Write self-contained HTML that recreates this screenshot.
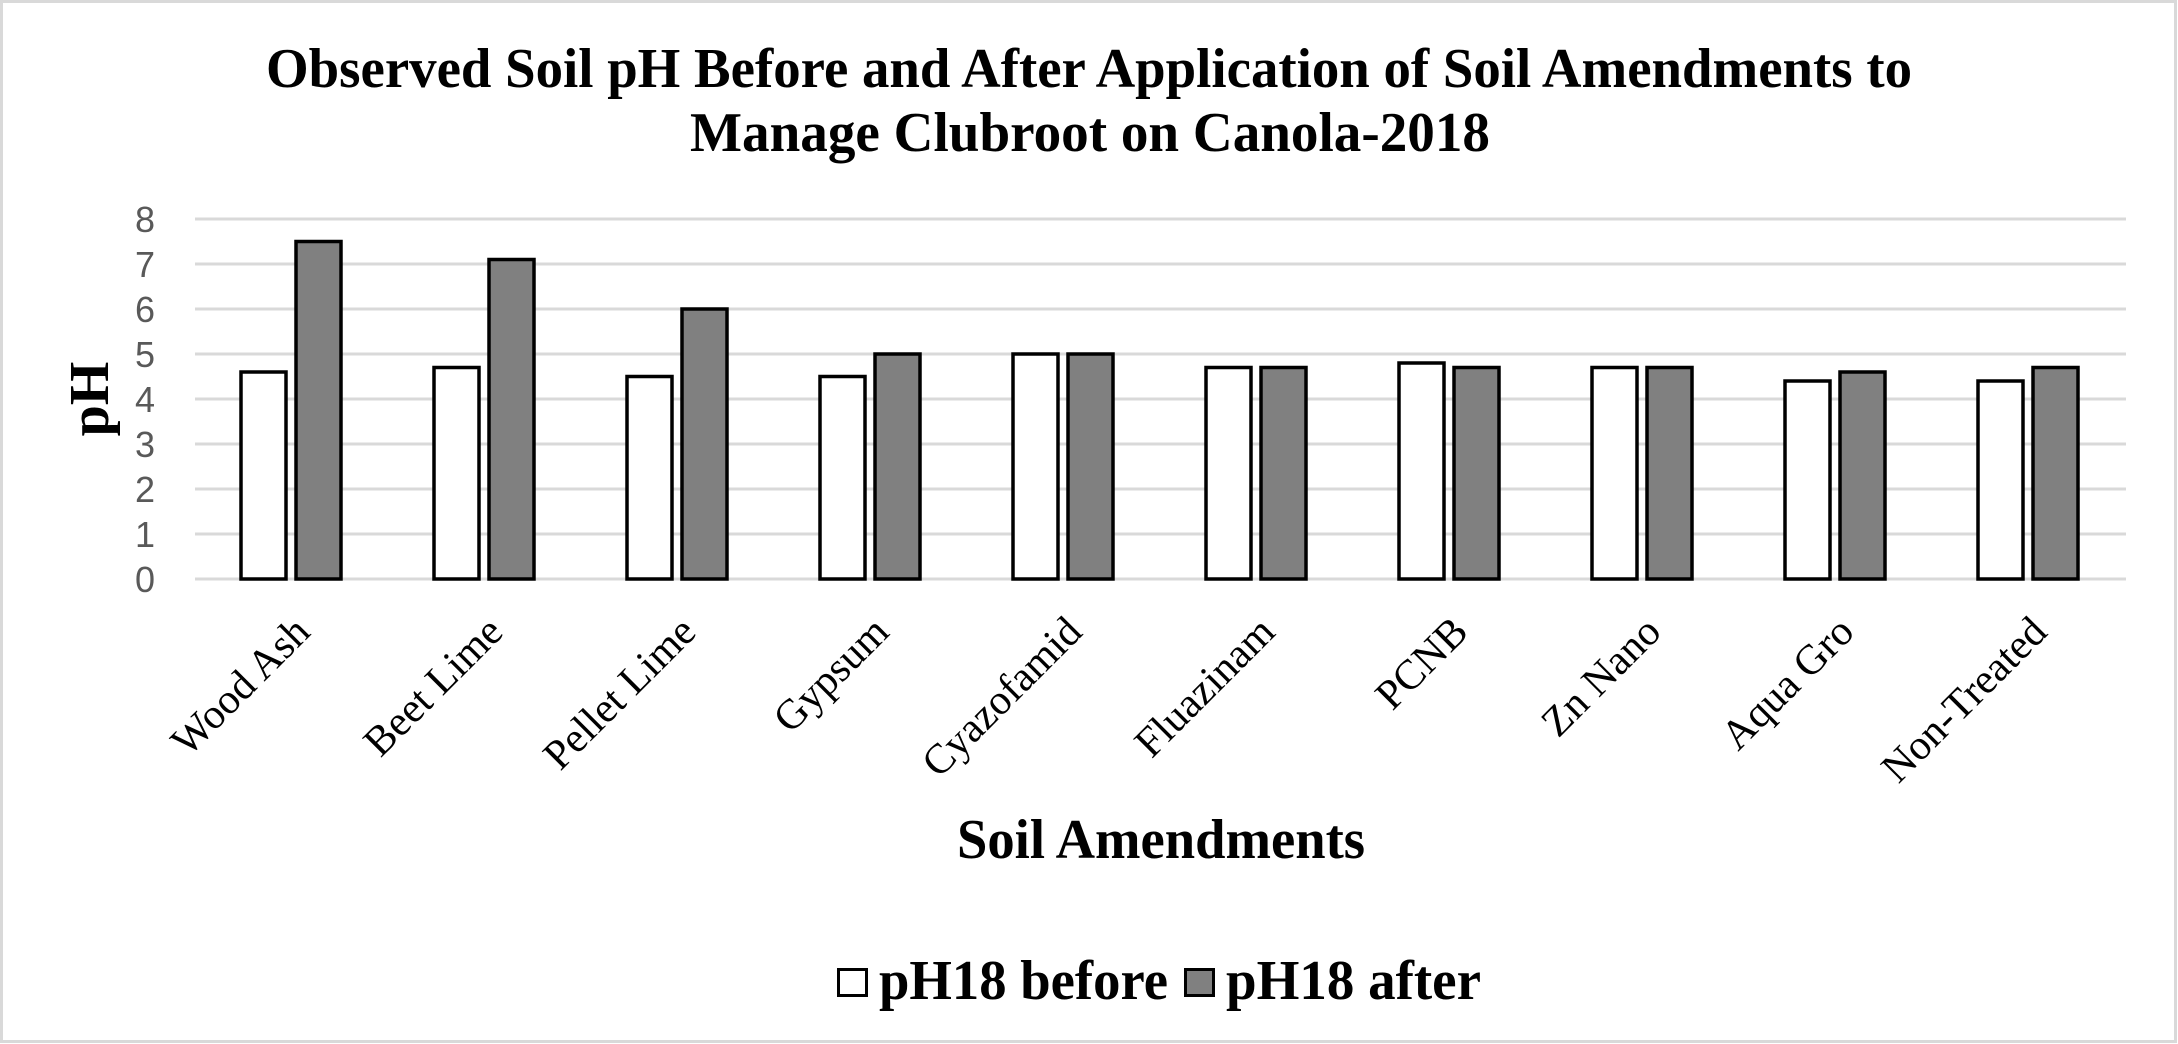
<!DOCTYPE html>
<html><head><meta charset="utf-8"><style>html,body{margin:0;padding:0;background:#fff}svg{display:block}</style></head>
<body>
<svg width="2178" height="1044" viewBox="0 0 2178 1044" xmlns="http://www.w3.org/2000/svg">
<rect x="1.5" y="1.5" width="2174" height="1040" fill="#fff" stroke="#d9d9d9" stroke-width="3"/>
<g font-family="Liberation Serif, serif" font-weight="bold" fill="#000">
<text x="266" y="87" font-size="56" textLength="1646" lengthAdjust="spacingAndGlyphs">Observed Soil pH Before and After Application of Soil Amendments to</text>
<text x="690" y="151" font-size="56" textLength="800" lengthAdjust="spacingAndGlyphs">Manage Clubroot on Canola-2018</text>
<text x="957" y="858" font-size="56" textLength="408" lengthAdjust="spacingAndGlyphs">Soil Amendments</text>
<text transform="translate(108,399) rotate(-90)" text-anchor="middle" font-size="56">pH</text>
<text x="879" y="999" font-size="56" textLength="289" lengthAdjust="spacingAndGlyphs">pH18 before</text>
<text x="1226" y="999" font-size="56" textLength="255" lengthAdjust="spacingAndGlyphs">pH18 after</text>
</g>
<rect x="838.5" y="969.5" width="28" height="26" fill="#fff" stroke="#000" stroke-width="3"/>
<rect x="1185.5" y="969.5" width="28" height="26" fill="#808080" stroke="#000" stroke-width="3"/>
<g stroke="#d9d9d9" stroke-width="3">
<line x1="195" y1="219" x2="2126" y2="219"/><line x1="195" y1="264" x2="2126" y2="264"/>
<line x1="195" y1="309" x2="2126" y2="309"/><line x1="195" y1="354" x2="2126" y2="354"/>
<line x1="195" y1="399" x2="2126" y2="399"/><line x1="195" y1="444" x2="2126" y2="444"/>
<line x1="195" y1="489" x2="2126" y2="489"/><line x1="195" y1="534" x2="2126" y2="534"/>
<line x1="195" y1="579" x2="2126" y2="579"/>
</g>
<g font-family="Liberation Sans, sans-serif" font-size="36" fill="#595959" text-anchor="end">
<text x="155" y="232">8</text><text x="155" y="277">7</text><text x="155" y="322">6</text>
<text x="155" y="367">5</text><text x="155" y="412">4</text><text x="155" y="457">3</text>
<text x="155" y="502">2</text><text x="155" y="547">1</text><text x="155" y="592">0</text>
</g>
<g stroke="#000" stroke-width="3.5">
<rect x="241" y="372" width="45" height="207" fill="#fff"/><rect x="296" y="241.5" width="45" height="337.5" fill="#808080"/>
<rect x="434" y="367.5" width="45" height="211.5" fill="#fff"/><rect x="489" y="259.5" width="45" height="319.5" fill="#808080"/>
<rect x="627" y="376.5" width="45" height="202.5" fill="#fff"/><rect x="682" y="309" width="45" height="270" fill="#808080"/>
<rect x="820" y="376.5" width="45" height="202.5" fill="#fff"/><rect x="875" y="354" width="45" height="225" fill="#808080"/>
<rect x="1013" y="354" width="45" height="225" fill="#fff"/><rect x="1068" y="354" width="45" height="225" fill="#808080"/>
<rect x="1206" y="367.5" width="45" height="211.5" fill="#fff"/><rect x="1261" y="367.5" width="45" height="211.5" fill="#808080"/>
<rect x="1399" y="363" width="45" height="216" fill="#fff"/><rect x="1454" y="367.5" width="45" height="211.5" fill="#808080"/>
<rect x="1592" y="367.5" width="45" height="211.5" fill="#fff"/><rect x="1647" y="367.5" width="45" height="211.5" fill="#808080"/>
<rect x="1785" y="381" width="45" height="198" fill="#fff"/><rect x="1840" y="372" width="45" height="207" fill="#808080"/>
<rect x="1978" y="381" width="45" height="198" fill="#fff"/><rect x="2033" y="367.5" width="45" height="211.5" fill="#808080"/>
</g>
<g font-family="Liberation Serif, serif" font-size="42" fill="#000" text-anchor="end">
<text transform="translate(312,634) rotate(-45)">Wood Ash</text>
<text transform="translate(505,634) rotate(-45)">Beet Lime</text>
<text transform="translate(698,634) rotate(-45)">Pellet Lime</text>
<text transform="translate(891,634) rotate(-45)">Gypsum</text>
<text transform="translate(1084,634) rotate(-45)">Cyazofamid</text>
<text transform="translate(1277,634) rotate(-45)">Fluazinam</text>
<text transform="translate(1470,634) rotate(-45)">PCNB</text>
<text transform="translate(1663,634) rotate(-45)">Zn Nano</text>
<text transform="translate(1856,634) rotate(-45)">Aqua Gro</text>
<text transform="translate(2049,634) rotate(-45)">Non-Treated</text>
</g>
</svg>
</body></html>
